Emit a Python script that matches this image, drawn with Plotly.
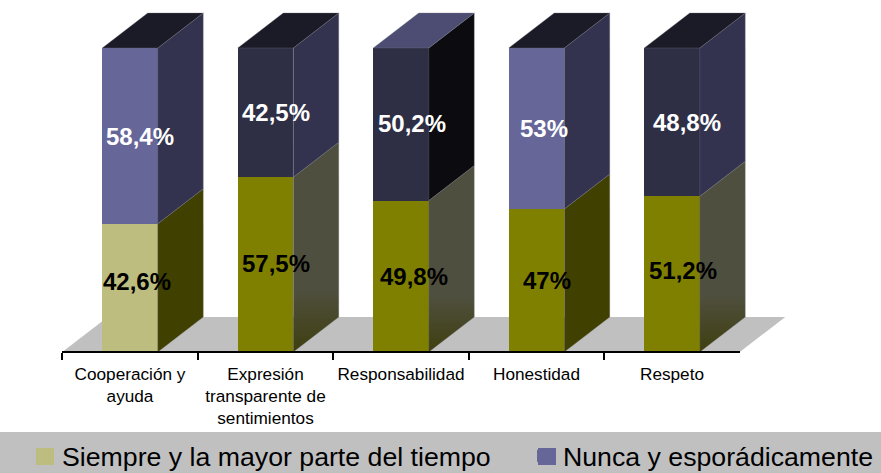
import plotly.graph_objects as go

categories = ["Cooperación y<br>ayuda", "Expresión<br>transparente de<br>sentimientos",
              "Responsabilidad", "Honestidad", "Respeto"]
siempre = [42.6, 57.5, 49.8, 47, 51.2]
nunca = [58.4, 42.5, 50.2, 53, 48.8]
siempre_labels = ["42,6%", "57,5%", "49,8%", "47%", "51,2%"]
nunca_labels = ["58,4%", "42,5%", "50,2%", "53%", "48,8%"]

# styles
low_front = ["#bdbd80", "#808000", "#808000", "#808000", "#808000"]
up_front = ["#666699", "#2e2e45", "#2e2e45", "#666699", "#2e2e45"]
low_side = ["#404000", "grad", "grad", "#404000", "grad"]
up_side = ["#333350", "#333350", "#0b0b10", "#333350", "#333350"]
top_col = ["#1b1b27", "#1b1b27", "#4d4d73", "#1b1b27", "#1b1b27"]
low_shift = [(7, 6), (10.5, 1.5), (13, 0), (10, 0), (10.5, 4)]
up_shift = [(10, -1), (10.5, 0), (11, 1), (7, 0), (14.5, 0)]

W, H = 881, 473
STEP = 135.5
X0 = 130.0
PX_PER_PCT = 3.04
BASE = 352
BW = 0.41
DX = 45.5 / STEP
DY = 35 / PX_PER_PCT
FONT = "Liberation Sans, Arial, sans-serif"

n = len(categories)
xs = list(range(n))
totals = [a + b for a, b in zip(siempre, nunca)]
low_pct = [a / t * 100 for a, t in zip(siempre, totals)]

fig = go.Figure()
fig.add_trace(go.Bar(x=xs, y=siempre, width=BW, name="Siempre y la mayor parte del tiempo",
                     marker=dict(color=low_front, line=dict(width=0)), hoverinfo="skip", legend="legend"))
fig.add_trace(go.Bar(x=xs, y=nunca, width=BW, name="Nunca y esporádicamente",
                     marker=dict(color=up_front, line=dict(width=0)), hoverinfo="skip", legend="legend2"))


def poly(px, py, color):
    kw = dict(x=px, y=py, mode="lines", fill="toself", showlegend=False, hoverinfo="skip",
              line=dict(color="rgba(120,120,130,0.55)", width=0.6))
    if color == "grad":
        kw["fillgradient"] = dict(type="vertical",
                                  colorscale=[[0, "#3f3f10"], [0.3, "#4f4f3f"], [1, "#4f4f3f"]])
    else:
        kw["fillcolor"] = color
    fig.add_trace(go.Scatter(**kw))


for i in xs:
    r = i + BW / 2
    l = i - BW / 2
    m = low_pct[i]
    poly([r, r + DX, r + DX, r, r], [0, DY, m + DY, m, 0], low_side[i])
    poly([r, r + DX, r + DX, r, r], [m, m + DY, 100 + DY, 100, m], up_side[i])
    poly([l, r, r + DX, l + DX, l], [100, 100, 100 + DY, 100 + DY, 100], top_col[i])

# category axis trace (defines the labelled axis)
fig.add_trace(go.Scatter(x=categories, y=[None] * n, xaxis="x2", yaxis="y", mode="markers",
                         showlegend=False, hoverinfo="skip"))

annotations = []
for i in xs:
    m = low_pct[i]
    annotations.append(dict(x=i, y=m / 2, xref="x", yref="y", text=siempre_labels[i], showarrow=False,
                            xshift=low_shift[i][0], yshift=low_shift[i][1],
                            font=dict(family=FONT, size=24, color="black", weight="bold")))
    annotations.append(dict(x=i, y=(m + 100) / 2, xref="x", yref="y", text=nunca_labels[i], showarrow=False,
                            xshift=up_shift[i][0], yshift=up_shift[i][1],
                            font=dict(family=FONT, size=24, color="white", weight="bold")))

floor = (f"M -0.5 0 L {-0.5 + DX} {DY} L {n - 0.5 + DX} {DY} L {n - 0.5} 0 Z")
shapes = [
    dict(type="path", path=floor, xref="x", yref="y", fillcolor="#c0c0c0", line=dict(width=0), layer="below"),
    dict(type="rect", xref="paper", yref="paper", x0=0, x1=1, y0=0, y1=41 / H,
         fillcolor="#c0c0c0", line=dict(width=0), layer="below"),
    dict(type="rect", xref="paper", yref="paper", x0=36 / W, x1=54 / W, y0=(H - 465) / H, y1=(H - 448) / H,
         fillcolor=low_front[0], line=dict(width=0), layer="below"),
    dict(type="rect", xref="paper", yref="paper", x0=538 / W, x1=556 / W, y0=(H - 465) / H, y1=(H - 448) / H,
         fillcolor=up_front[0], line=dict(width=0), layer="below"),
]

axis_pos = (H - BASE) / H
legend_font = dict(family=FONT, size=26.7, color="black")
fig.update_layout(
    width=W, height=H, margin=dict(l=0, r=0, t=0, b=0, autoexpand=False), autosize=False,
    paper_bgcolor="white", plot_bgcolor="rgba(0,0,0,0)",
    barmode="stack", barnorm="percent",
    xaxis=dict(visible=False, range=[-X0 / STEP, (W - X0) / STEP], domain=[0, 1], fixedrange=True),
    xaxis2=dict(type="category", categoryarray=categories, categoryorder="array",
                range=[-0.5, n - 0.5], domain=[(X0 - STEP / 2) / W, (X0 + (n - 0.5) * STEP) / W],
                anchor="free", position=axis_pos, tickson="boundaries", ticks="outside", ticklen=7,
                tickwidth=2, tickcolor="black", showline=True, linecolor="black", linewidth=2,
                showgrid=False, zeroline=False, tickangle=0, ticklabelstandoff=6,
                tickfont=dict(family=FONT, size=17.2, color="black")),
    yaxis=dict(visible=False, range=[-(H - BASE) / PX_PER_PCT, BASE / PX_PER_PCT], domain=[0, 1]),
    legend=dict(orientation="h", x=22 / W, xanchor="left", y=(H - 456) / H, yanchor="middle",
                bgcolor="rgba(0,0,0,0)", font=legend_font),
    legend2=dict(orientation="h", x=523 / W, xanchor="left", y=(H - 456) / H, yanchor="middle",
                 bgcolor="rgba(0,0,0,0)", font=legend_font),
    shapes=shapes, annotations=annotations,
)
fig.write_html("out.html", config=dict(displayModeBar=False),
               post_script="document.body.style.margin='0';document.documentElement.style.overflow='hidden';")
